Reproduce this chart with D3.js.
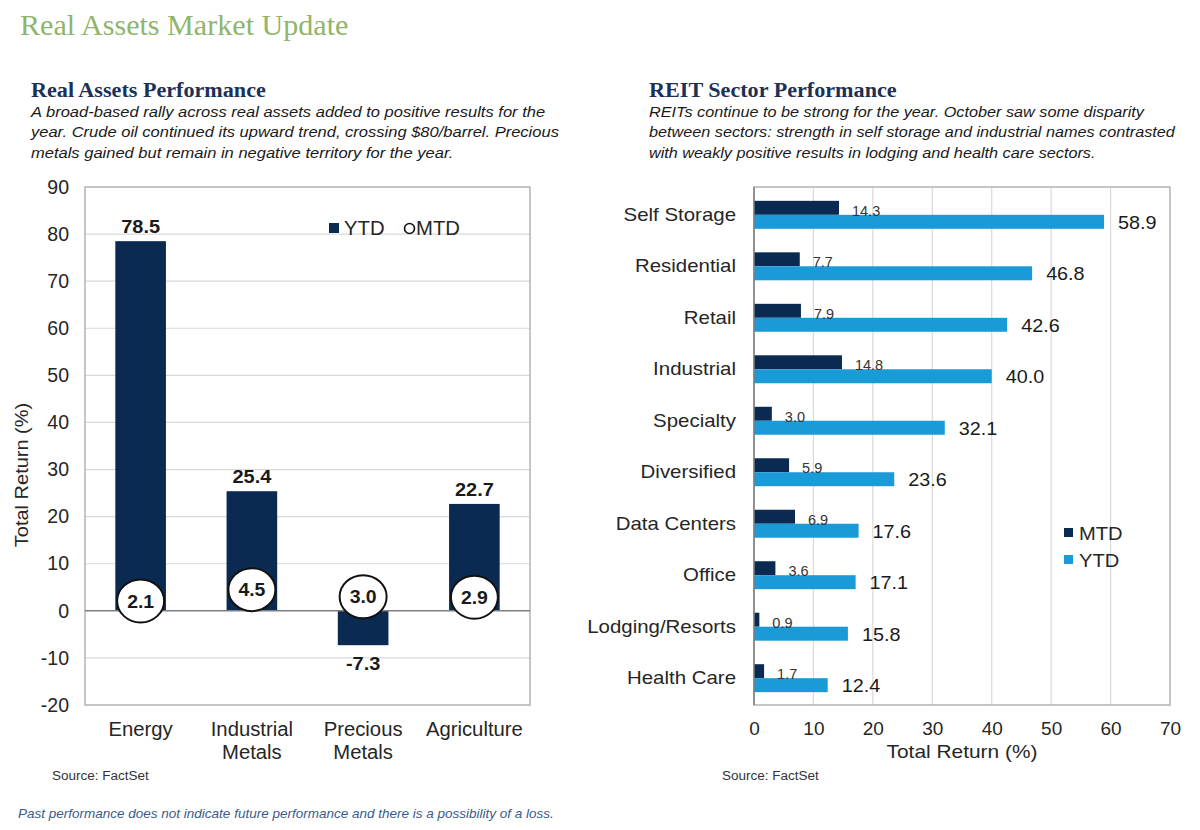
<!DOCTYPE html>
<html>
<head>
<meta charset="utf-8">
<script src="https://cdn.jsdelivr.net/npm/d3@7/dist/d3.min.js"></script>
<style>
  html, body { margin: 0; padding: 0; background: #ffffff; }
  svg { display: block; }
</style>
</head>
<body>
<svg id="chart" width="1200" height="830"></svg>
<script>
// ---------- Data ----------
const assetCategories = [["Energy"], ["Industrial", "Metals"], ["Precious", "Metals"], ["Agriculture"]];
const assetYTD = [78.5, 25.4, -7.3, 22.7];
const assetMTD = [2.1, 4.5, 3.0, 2.9];
const assetTicks = [-20, -10, 0, 10, 20, 30, 40, 50, 60, 70, 80, 90];

const reitSectors = ["Self Storage", "Residential", "Retail", "Industrial", "Specialty", "Diversified", "Data Centers", "Office", "Lodging/Resorts", "Health Care"];
const reitMTD = [14.3, 7.7, 7.9, 14.8, 3.0, 5.9, 6.9, 3.6, 0.9, 1.7];
const reitYTD = [58.9, 46.8, 42.6, 40.0, 32.1, 23.6, 17.6, 17.1, 15.8, 12.4];
const reitTicks = [0, 10, 20, 30, 40, 50, 60, 70];

// ---------- Styles ----------
const NAVY = "#0b2a52";
const LIGHT = "#1a9ad6";
const GRID = "#d9d9d9";
const BORDER = "#b3b3b3";
const SANS = "'Liberation Sans', Arial, sans-serif";
const SERIF = "'Liberation Serif', 'Times New Roman', serif";

const svg = d3.select("#chart");

// widen glyphs slightly (reference text is set a little wider than Arial/Times)
function stretch(sel, f) {
  sel.each(function () {
    const l = this.getComputedTextLength();
    this.setAttribute("textLength", (l * f).toFixed(1));
    this.setAttribute("lengthAdjust", "spacingAndGlyphs");
  });
  return sel;
}
const fmt = d => String(d);

// ---------- Header texts ----------
stretch(svg.append("text").attr("x", 20).attr("y", 35)
  .attr("font-family", SERIF).attr("font-size", 29.5).attr("fill", "#8fb56b")
  .text("Real Assets Market Update"), 1.02);

function header(x, title, lines, f) {
  stretch(svg.append("text").attr("x", x).attr("y", 97)
    .attr("font-family", SERIF).attr("font-weight", "bold").attr("font-size", 20.5)
    .attr("fill", "#1b3157").text(title), 1.08);
  lines.forEach((l, i) => {
    stretch(svg.append("text").attr("x", x).attr("y", 117 + i * 20.3)
      .attr("font-family", SANS).attr("font-style", "italic").attr("font-size", 15.5)
      .attr("fill", "#1a1a1a").text(l), f);
  });
}
header(31, "Real Assets Performance", [
  "A broad-based rally across real assets added to positive results for the",
  "year. Crude oil continued its upward trend, crossing $80/barrel. Precious",
  "metals gained but remain in negative territory for the year."
], 1.065);
header(649, "REIT Sector Performance", [
  "REITs continue to be strong for the year. October saw some disparity",
  "between sectors: strength in self storage and industrial names contrasted",
  "with weakly positive results in lodging and health care sectors."
], 1.047);

// ---------- Left chart ----------
{
  const L = 85, R = 530, T = 187, B = 705;
  const x = d3.scaleBand().domain(d3.range(assetYTD.length)).range([L, R])
    .paddingInner(0.545).paddingOuter(0.2725);
  const y = d3.scaleLinear().domain([-20, 90]).range([B, T]);
  const g = svg.append("g");

  g.selectAll("line.grid").data(assetTicks.filter(t => t !== 0 && t !== -20 && t !== 90))
    .join("line").attr("x1", L).attr("x2", R)
    .attr("y1", d => y(d)).attr("y2", d => y(d))
    .attr("stroke", GRID).attr("stroke-width", 1.2);
  g.append("rect").attr("x", L).attr("y", T).attr("width", R - L).attr("height", B - T)
    .attr("fill", "none").attr("stroke", BORDER).attr("stroke-width", 1.5);

  const yAxis = d3.axisLeft(y).tickValues(assetTicks).tickFormat(fmt).tickSize(0).tickPadding(16);
  const ya = g.append("g").attr("transform", `translate(${L},0)`).call(yAxis);
  ya.select(".domain").remove();
  ya.selectAll("text").attr("font-family", SANS).attr("font-size", 19.5).attr("fill", "#262626");

  stretch(svg.append("text").attr("transform", `translate(28,475) rotate(-90)`)
    .attr("text-anchor", "middle").attr("font-family", SANS).attr("font-size", 18.5)
    .attr("fill", "#262626").text("Total Return (%)"), 1.08);

  g.selectAll("rect.bar").data(assetYTD).join("rect")
    .attr("x", (d, i) => x(i)).attr("width", x.bandwidth())
    .attr("y", d => y(Math.max(0, d))).attr("height", d => Math.abs(y(d) - y(0)))
    .attr("fill", NAVY);

  g.append("line").attr("x1", L).attr("x2", R).attr("y1", y(0)).attr("y2", y(0))
    .attr("stroke", "#7f7f7f").attr("stroke-width", 1.5);

  stretch(g.selectAll("text.ytd").data(assetYTD).join("text")
    .attr("x", (d, i) => x(i) + x.bandwidth() / 2)
    .attr("y", d => d >= 0 ? y(d) - 8 : y(d) + 25)
    .attr("text-anchor", "middle").attr("font-family", SANS).attr("font-weight", "bold")
    .attr("font-size", 18.5).attr("fill", "#1a1a1a").text(d => d.toFixed(1)), 1.08);

  const mg = g.selectAll("g.mtd").data(assetMTD).join("g")
    .attr("transform", (d, i) => `translate(${x(i) + x.bandwidth() / 2},${y(d)})`);
  mg.append("ellipse").attr("rx", 23.5).attr("ry", 21.5)
    .attr("fill", "#ffffff").attr("stroke", "#111").attr("stroke-width", 2);
  stretch(mg.append("text").attr("text-anchor", "middle").attr("dy", "0.36em")
    .attr("font-family", SANS).attr("font-weight", "bold").attr("font-size", 18.5)
    .attr("fill", "#1a1a1a").text(d => d.toFixed(1)), 1.05);

  assetCategories.forEach((lines, i) => {
    lines.forEach((l, j) => {
      stretch(svg.append("text").attr("x", x(i) + x.bandwidth() / 2).attr("y", 736 + j * 23)
        .attr("text-anchor", "middle").attr("font-family", SANS).attr("font-size", 19.5)
        .attr("fill", "#262626").text(l), 1.04);
    });
  });

  g.append("rect").attr("x", 329).attr("y", 223).attr("width", 10).attr("height", 10).attr("fill", NAVY);
  stretch(g.append("text").attr("x", 344).attr("y", 235).attr("font-family", SANS).attr("font-size", 19.5)
    .attr("fill", "#262626").text("YTD"), 1.04);
  g.append("circle").attr("cx", 409.5).attr("cy", 228.5).attr("r", 5)
    .attr("fill", "#fff").attr("stroke", "#111").attr("stroke-width", 1.6);
  stretch(g.append("text").attr("x", 416).attr("y", 235).attr("font-family", SANS).attr("font-size", 19.5)
    .attr("fill", "#262626").text("MTD"), 1.04);

  stretch(svg.append("text").attr("x", 52).attr("y", 780).attr("font-family", SANS).attr("font-size", 12.5)
    .attr("fill", "#333").text("Source: FactSet"), 1.08);
}

// ---------- Right chart ----------
{
  const L = 754, R = 1170, T = 187, B = 705;
  const x = d3.scaleLinear().domain([0, 70]).range([L, R]);
  const y = d3.scaleBand().domain(reitSectors).range([189, 704]).paddingInner(0.457).paddingOuter(0.23);
  const sub = d3.scaleBand().domain(["MTD", "YTD"]).range([0, y.bandwidth()]);
  const g = svg.append("g");

  g.selectAll("line.grid").data(reitTicks.filter(t => t !== 0 && t !== 70))
    .join("line").attr("y1", T).attr("y2", B)
    .attr("x1", d => x(d)).attr("x2", d => x(d))
    .attr("stroke", GRID).attr("stroke-width", 1.2);
  g.append("rect").attr("x", L).attr("y", T).attr("width", R - L).attr("height", B - T)
    .attr("fill", "none").attr("stroke", BORDER).attr("stroke-width", 1.5);

  const xa = g.append("g").attr("transform", `translate(0,${B})`)
    .call(d3.axisBottom(x).tickValues(reitTicks).tickFormat(fmt).tickSize(0).tickPadding(17));
  xa.select(".domain").remove();
  xa.selectAll("text").attr("font-family", SANS).attr("font-size", 19).attr("fill", "#262626");

  stretch(svg.append("text").attr("x", (L + R) / 2).attr("y", 758).attr("text-anchor", "middle")
    .attr("font-family", SANS).attr("font-size", 19).attr("fill", "#262626").text("Total Return (%)"), 1.1);

  const ya = g.append("g").attr("transform", `translate(${L},0)`)
    .call(d3.axisLeft(y).tickSize(0).tickPadding(18));
  ya.select(".domain").remove();
  stretch(ya.selectAll("text").attr("font-family", SANS).attr("font-size", 19).attr("fill", "#262626"), 1.075);

  g.selectAll("rect.mtd").data(reitMTD).join("rect")
    .attr("x", L).attr("y", (d, i) => y(reitSectors[i]) + sub("MTD"))
    .attr("width", d => x(d) - L).attr("height", sub.bandwidth()).attr("fill", NAVY);
  g.selectAll("rect.ytd").data(reitYTD).join("rect")
    .attr("x", L).attr("y", (d, i) => y(reitSectors[i]) + sub("YTD"))
    .attr("width", d => x(d) - L).attr("height", sub.bandwidth()).attr("fill", LIGHT);

  g.append("line").attr("x1", L).attr("x2", L).attr("y1", T).attr("y2", B)
    .attr("stroke", "#7f7f7f").attr("stroke-width", 1.5);

  g.selectAll("text.mtdl").data(reitMTD).join("text")
    .attr("x", d => x(d) + 13).attr("y", (d, i) => y(reitSectors[i]) + sub("YTD") + 1)
    .attr("font-family", SANS).attr("font-size", 14.5).attr("fill", "#333").text(d => d.toFixed(1));
  stretch(g.selectAll("text.ytdl").data(reitYTD).join("text")
    .attr("x", d => x(d) + 14).attr("y", (d, i) => y(reitSectors[i]) + sub("YTD") + sub.bandwidth() / 2 + 7)
    .attr("font-family", SANS).attr("font-size", 19).attr("fill", "#1a1a1a").text(d => d.toFixed(1)), 1.04);

  const leg = [["MTD", NAVY], ["YTD", LIGHT]];
  leg.forEach(([name, c], i) => {
    g.append("rect").attr("x", 1064).attr("y", 528 + i * 27).attr("width", 9).attr("height", 9).attr("fill", c);
    stretch(g.append("text").attr("x", 1079).attr("y", 539.5 + i * 27).attr("font-family", SANS)
      .attr("font-size", 19).attr("fill", "#262626").text(name), 1.06);
  });

  stretch(svg.append("text").attr("x", 722).attr("y", 780).attr("font-family", SANS).attr("font-size", 12.5)
    .attr("fill", "#333").text("Source: FactSet"), 1.08);
}

stretch(svg.append("text").attr("x", 18).attr("y", 818).attr("font-family", SANS).attr("font-style", "italic")
  .attr("font-size", 12.8).attr("fill", "#3b5a8c")
  .text("Past performance does not indicate future performance and there is a possibility of a loss."), 1.055);
</script>
</body>
</html>
